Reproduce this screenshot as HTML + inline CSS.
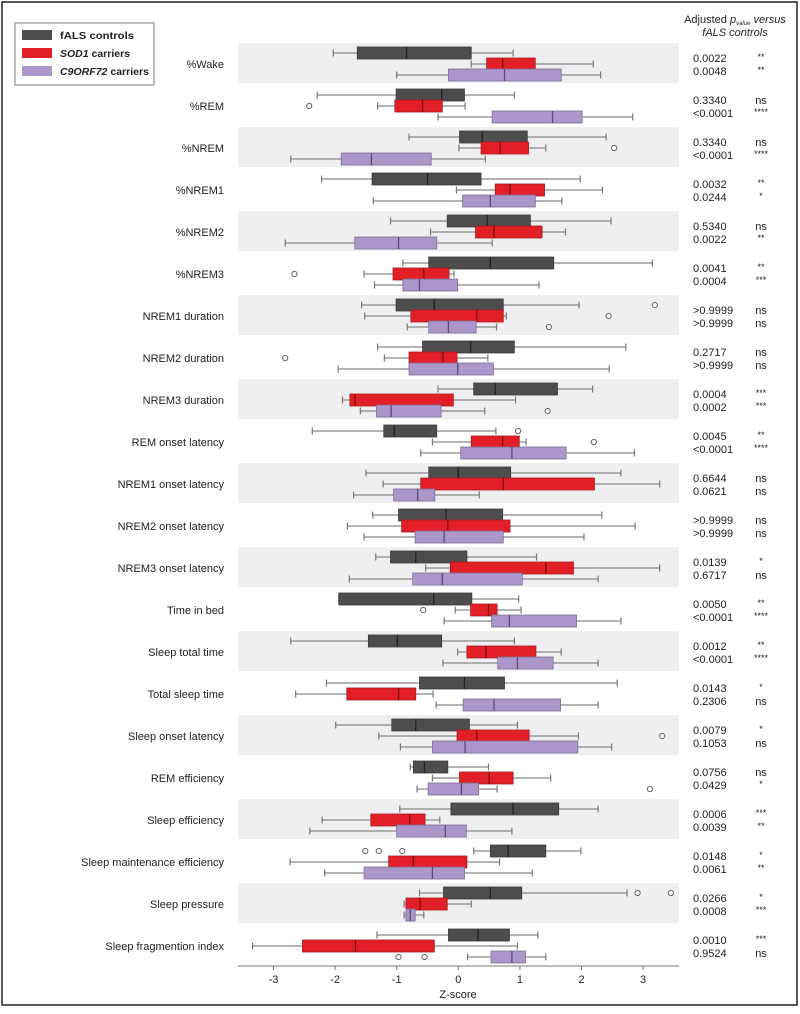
<!DOCTYPE html>
<html><head><meta charset="utf-8">
<style>
html,body{margin:0;padding:0;background:#fff;}
svg{display:block;font-family:"Liberation Sans",Arial,sans-serif;}
</style></head>
<body>
<svg id="chart" width="800" height="1014" viewBox="0 0 800 1014">
  <rect x="2" y="2" width="795" height="1003" fill="#fff" stroke="#222" stroke-width="1.5"/>
  <g id="bands"></g>
  <g id="plot"></g>
  <g id="axis"></g>
  <g id="labels"></g>
  <g id="pvals"></g>
  <g>
    <rect x="15" y="23" width="139" height="62" fill="#fff" stroke="#777" stroke-width="1"/>
    <rect x="22" y="30" width="30" height="10" fill="#4d4d4d"/>
    <text x="60" y="39" font-size="10.5" font-weight="bold" fill="#222" textLength="74" lengthAdjust="spacingAndGlyphs">fALS controls</text>
    <rect x="22" y="48" width="30" height="10" fill="#e21f26"/>
    <text x="60" y="57" font-size="10.5" font-weight="bold" fill="#222" textLength="70" lengthAdjust="spacingAndGlyphs"><tspan font-style="italic">SOD1</tspan> carriers</text>
    <rect x="22" y="66" width="30" height="10" fill="#ab97c9"/>
    <text x="60" y="75" font-size="10.5" font-weight="bold" fill="#222" textLength="89" lengthAdjust="spacingAndGlyphs"><tspan font-style="italic">C9ORF72</tspan> carriers</text>
  </g>
  <g>
    <text x="735" y="23" font-size="11" text-anchor="middle" fill="#222">Adjusted <tspan font-style="italic">p</tspan><tspan font-size="6" font-style="italic" dy="2">value</tspan><tspan dy="-2" font-style="italic"> versus</tspan></text>
    <text x="735" y="36" font-size="11" text-anchor="middle" font-style="italic" fill="#222">fALS controls</text>
  </g>
</svg>
<script>
const categories = ["%Wake","%REM","%NREM","%NREM1","%NREM2","%NREM3","NREM1 duration","NREM2 duration","NREM3 duration","REM onset latency","NREM1 onset latency","NREM2 onset latency","NREM3 onset latency","Time in bed","Sleep total time","Total sleep time","Sleep onset latency","REM efficiency","Sleep efficiency","Sleep maintenance efficiency","Sleep pressure","Sleep fragmention index"];
// [whiskerLow, q1, median, q3, whiskerHigh]
const falsStats = [
[-2.03,-1.64,-0.84,0.21,0.89],[-2.29,-1.01,-0.27,0.10,0.91],[-0.80,0.02,0.39,1.12,2.40],[-2.22,-1.40,-0.50,0.37,1.98],[-1.10,-0.18,0.47,1.17,2.48],
[-0.90,-0.48,0.52,1.55,3.15],[-1.57,-1.01,-0.39,0.73,1.96],[-1.31,-0.58,0.20,0.91,2.72],[-0.33,0.25,0.60,1.61,2.18],[-2.37,-1.21,-1.04,-0.35,0.61],
[-1.50,-0.48,0.00,0.85,2.64],[-1.39,-0.97,-0.20,0.72,2.33],[-1.34,-1.10,-0.69,0.14,1.27],[-1.94,-1.94,-0.40,0.22,0.98],[-2.72,-1.46,-0.99,-0.27,0.91],
[-2.14,-0.63,0.10,0.75,2.58],[-1.99,-1.08,-0.69,0.18,0.96],[-0.78,-0.73,-0.55,-0.17,0.49],[-0.95,-0.12,0.89,1.63,2.27],[0.25,0.52,0.81,1.42,1.99],
[-0.63,-0.24,0.52,1.03,2.74],[-1.32,-0.16,0.32,0.83,1.29]];
const sod1Stats = [
[0.21,0.46,0.72,1.25,2.19],[-1.31,-1.03,-0.58,-0.26,0.11],[0.01,0.37,0.68,1.14,1.42],[-0.03,0.60,0.84,1.40,2.34],[-0.45,0.28,0.58,1.36,1.74],
[-1.53,-1.06,-0.56,-0.15,-0.07],[-1.52,-0.77,0.30,0.73,0.78],[-1.20,-0.80,-0.25,-0.02,0.48],[-1.88,-1.76,-1.68,-0.08,0.93],[-0.42,0.21,0.72,0.99,1.10],
[-1.22,-0.61,0.73,2.21,3.27],[-1.80,-0.92,-0.17,0.84,2.87],[-0.53,-0.13,1.42,1.87,3.27],[-0.05,0.20,0.49,0.63,1.02],[-0.01,0.14,0.45,1.26,1.67],
[-2.64,-1.81,-0.97,-0.69,-0.41],[-1.29,-0.02,0.30,1.15,1.95],[-0.42,0.02,0.50,0.89,1.50],[-2.21,-1.42,-0.79,-0.54,-0.30],[-2.73,-1.13,-0.73,0.14,0.67],
[-0.88,-0.85,-0.62,-0.18,0.21],[-3.34,-2.53,-1.67,-0.39,0.96]];
const c9Stats = [
[-1.00,-0.16,0.75,1.67,2.31],[-0.33,0.55,1.53,2.01,2.83],[-2.72,-1.90,-1.41,-0.44,0.44],[-1.38,0.07,0.52,1.25,1.68],[-2.81,-1.68,-0.97,-0.35,0.55],
[-1.36,-0.90,-0.63,-0.01,1.31],[-0.83,-0.48,-0.16,0.29,0.62],[-1.95,-0.80,-0.01,0.57,2.45],[-1.59,-1.33,-1.09,-0.28,0.43],[-0.61,0.04,0.87,1.75,2.86],
[-1.70,-1.05,-0.66,-0.38,0.34],[-1.53,-0.70,-0.23,0.73,2.04],[-1.77,-0.74,-0.26,1.04,2.27],[-0.23,0.54,0.83,1.92,2.64],[-0.25,0.64,0.96,1.54,2.27],
[-0.36,0.08,0.58,1.66,2.27],[-0.94,-0.42,0.11,1.94,2.49],[-0.67,-0.49,0.05,0.33,0.63],[-2.41,-1.00,-0.21,0.13,0.87],[-2.17,-1.53,-0.42,0.10,1.20],
[-0.88,-0.85,-0.78,-0.70,-0.56],[0.15,0.53,0.87,1.09,1.42]];
const falsOutliers = [[],[],[],[],[],[],[3.19],[],[],[0.97],[],[],[],[],[],[],[],[],[],[-1.51,-1.29,-0.91],[2.91,3.45],[]];
const sod1Outliers = [[],[-2.42],[2.53],[],[],[-2.66],[2.44],[-2.81],[],[2.20],[],[],[],[-0.57],[],[],[3.31],[],[],[],[],[]];
const c9Outliers = [[],[],[],[],[],[],[1.47],[],[1.45],[],[],[],[],[],[],[],[],[3.11],[],[],[],[-0.97,-0.55]];
const pFals = ["0.0022","0.3340","0.3340","0.0032","0.5340","0.0041",">0.9999","0.2717","0.0004","0.0045","0.6644",">0.9999","0.0139","0.0050","0.0012","0.0143","0.0079","0.0756","0.0006","0.0148","0.0266","0.0010"];
const sigFals = ["**","ns","ns","**","ns","**","ns","ns","***","**","ns","ns","*","**","**","*","*","ns","***","*","*","***"];
const pC9 = ["0.0048","<0.0001","<0.0001","0.0244","0.0022","0.0004",">0.9999",">0.9999","0.0002","<0.0001","0.0621",">0.9999","0.6717","<0.0001","<0.0001","0.2306","0.1053","0.0429","0.0039","0.0061","0.0008","0.9524"];
const sigC9 = ["**","****","****","*","**","***","ns","ns","***","****","ns","ns","ns","****","****","ns","ns","*","**","**","***","ns"];
const xTicks = [-3,-2,-1,0,1,2,3];

const NS="http://www.w3.org/2000/svg";
const X0=458.3, PXU=61.6, PLOT_L=238, PLOT_R=679, TOP=43, ROWH=42;
function xs(v){return X0+v*PXU;}
function rowTop(i){return TOP+i*ROWH;}
function mk(tag,attrs,parent){const e=document.createElementNS(NS,tag);for(const k in attrs)e.setAttribute(k,attrs[k]);parent.appendChild(e);return e;}

const bands=document.getElementById('bands'), plot=document.getElementById('plot'), axis=document.getElementById('axis'), labels=document.getElementById('labels'), pvals=document.getElementById('pvals');

const groups=[
 {stats:falsStats,out:falsOutliers,fill:"#4d4d4d",stroke:"#3a3a3a",med:"#222",off:10,name:"fals"},
 {stats:sod1Stats,out:sod1Outliers,fill:"#e21f26",stroke:"#a51a1f",med:"#7a1014",off:21,name:"sod1"},
 {stats:c9Stats,out:c9Outliers,fill:"#ab97c9",stroke:"#7d6c98",med:"#5a4b73",off:32,name:"c9orf72"}
];

categories.forEach((cat,i)=>{
  const t=rowTop(i);
  if(i%2===0){
    const b=mk('rect',{x:PLOT_L,y:t,width:PLOT_R-PLOT_L,height:40,fill:"#efeff1"},bands);
    
    
  }
  const lab=mk('text',{x:224,y:t+25,'font-size':11,'text-anchor':'end',fill:"#222"},labels);
  lab.textContent=cat;
  
  

  groups.forEach(g=>{
    const s=g.stats[i], cy=t+g.off, h=12;
    const grp=mk('g',{},plot);
    
    
    mk('line',{x1:xs(s[0]),x2:xs(s[1]),y1:cy,y2:cy,stroke:"#888",'stroke-width':1.2},grp);
    mk('line',{x1:xs(s[3]),x2:xs(s[4]),y1:cy,y2:cy,stroke:"#888",'stroke-width':1.2},grp);
    mk('line',{x1:xs(s[0]),x2:xs(s[0]),y1:cy-3.5,y2:cy+3.5,stroke:"#777",'stroke-width':1.2},grp);
    mk('line',{x1:xs(s[4]),x2:xs(s[4]),y1:cy-3.5,y2:cy+3.5,stroke:"#777",'stroke-width':1.2},grp);
    mk('rect',{x:xs(s[1]),y:cy-h/2,width:Math.max(1,xs(s[3])-xs(s[1])),height:h,fill:g.fill,stroke:g.stroke,'stroke-width':0.8},grp);
    mk('line',{x1:xs(s[2]),x2:xs(s[2]),y1:cy-h/2,y2:cy+h/2,stroke:g.med,'stroke-width':1.3},grp);
    g.out[i].forEach(o=>{
      const c=mk('circle',{cx:xs(o),cy:cy,r:2.6,fill:"#fff",stroke:"#666",'stroke-width':1},plot);
      
      
    });
  });

  const p1=mk('text',{x:693,y:t+19,'font-size':11,fill:"#222"},pvals);
  p1.textContent=pFals[i];
  
  
  const p2=mk('text',{x:693,y:t+32,'font-size':11,fill:"#222"},pvals);
  p2.textContent=pC9[i];
  
  
  const s1=mk('text',{x:761,y:sigFals[i]==='ns'?t+19:t+17,'font-size':sigFals[i]==='ns'?11:9,'text-anchor':'middle',fill:"#222"},pvals);
  s1.textContent=sigFals[i];
  
  
  const s2=mk('text',{x:761,y:sigC9[i]==='ns'?t+32:t+30,'font-size':sigC9[i]==='ns'?11:9,'text-anchor':'middle',fill:"#222"},pvals);
  s2.textContent=sigC9[i];
  
  
});

const axY=966;
const al=mk('line',{x1:PLOT_L,x2:PLOT_R,y1:axY,y2:axY,stroke:"#777",'stroke-width':1},axis);


xTicks.forEach(v=>{
  mk('line',{x1:xs(v),x2:xs(v),y1:axY,y2:axY+4,stroke:"#777",'stroke-width':1},axis);
  const tl=mk('text',{x:xs(v),y:axY+17,'font-size':11,'text-anchor':'middle',fill:"#222"},axis);
  tl.textContent=String(v);
  
  
});
const at=mk('text',{x:458,y:998,'font-size':11,'text-anchor':'middle',fill:"#222"},axis);
at.textContent="Z-score";


</script>
</body></html>
